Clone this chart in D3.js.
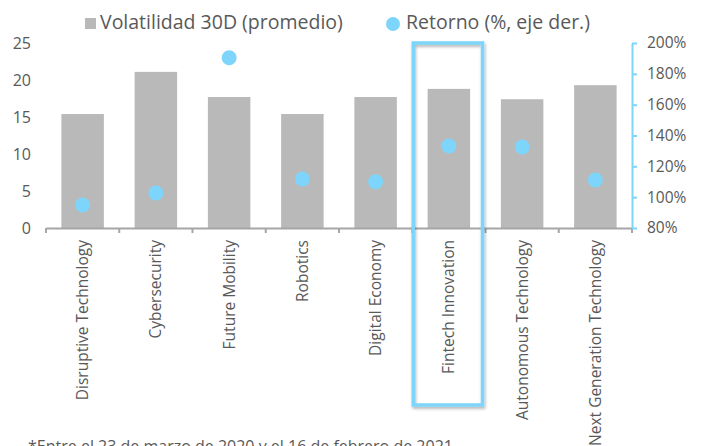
<!DOCTYPE html>
<html>
<head>
<meta charset="utf-8">
<style>
  body { margin: 0; background: #fff; }
  text { font-family: "Open Sans", sans-serif; fill: #595959; }
</style>
</head>
<body>
<svg width="701" height="446"></svg>
<script src="https://d3js.org/d3.v7.min.js"></script>
<script>

var categories = ["Disruptive Technology", "Cybersecurity", "Future Mobility", "Robotics",
                  "Digital Economy", "Fintech Innovation", "Autonomous Technology", "Next Generation Technology"];
var volatility = [15.4, 21.1, 17.7, 15.4, 17.7, 18.8, 17.4, 19.3];
var returns = [94.9, 102.7, 190.4, 111.8, 110.0, 133.2, 132.5, 111.1];
var leftTicks = [0, 5, 10, 15, 20, 25];
var rightTicks = [80, 100, 120, 140, 160, 180, 200];
var highlighted = "Fintech Innovation";
var footnote = "*Entre el 23 de marzo de 2020 y el 16 de febrero de 2021";

var svg = d3.select("svg"),
    blue = "#7dd5fc",
    grey = "#b9b9b9",
    axisGrey = "#a6a6a6";

var margin = {left: 46, right: 632, top: 43, bottom: 228};

var x = d3.scaleBand().domain(categories).range([margin.left, margin.right]).padding(0);
var yL = d3.scaleLinear().domain([0, 25]).range([margin.bottom, margin.top]);
var yR = d3.scaleLinear().domain([80, 200]).range([margin.bottom, margin.top]);

var defs = svg.append("defs");
defs.append("filter").attr("id", "shadow")
    .attr("x", "-10%").attr("y", "-10%").attr("width", "130%").attr("height", "130%")
  .append("feDropShadow")
    .attr("dx", 1).attr("dy", 2).attr("stdDeviation", 1.5)
    .attr("flood-color", "#000").attr("flood-opacity", 0.3);

// bars
var barW = x.bandwidth() * 0.58;
svg.append("g")
  .selectAll("rect")
  .data(categories)
  .enter().append("rect")
    .attr("x", function(d) { return x(d) + (x.bandwidth() - barW) / 2; })
    .attr("y", function(d, i) { return yL(volatility[i]); })
    .attr("width", barW)
    .attr("height", function(d, i) { return yL(0) - yL(volatility[i]); })
    .attr("fill", grey);

// left axis (labels only)
var gl = svg.append("g")
    .attr("transform", "translate(" + margin.left + ",0)")
    .call(d3.axisLeft(yL).tickValues(leftTicks).tickSize(0).tickPadding(15));
gl.select(".domain").remove();
gl.selectAll("text").style("font-size", "16px").attr("fill", "#595959");

// x axis
var gx = svg.append("g")
    .attr("transform", "translate(0," + margin.bottom + ")")
    .call(d3.axisBottom(x).tickSize(0).tickSizeOuter(0));
gx.select(".domain").attr("stroke", axisGrey).attr("stroke-width", 2);
gx.selectAll("text")
    .attr("transform", "rotate(-90)")
    .attr("text-anchor", "end")
    .attr("x", -12)
    .attr("y", 0)
    .attr("dy", "0.35em")
    .attr("fill", "#595959")
    .style("font-size", "15.5px");
gx.selectAll(".bound")
  .data(categories.concat([null]))
  .enter().append("line")
    .attr("class", "bound")
    .attr("x1", function(d) { return d === null ? margin.right : x(d); })
    .attr("x2", function(d) { return d === null ? margin.right : x(d); })
    .attr("y1", 0).attr("y2", 5)
    .attr("stroke", axisGrey).attr("stroke-width", 2);

// right axis
var gr = svg.append("g")
    .attr("transform", "translate(" + margin.right + ",0)")
    .call(d3.axisRight(yR).tickValues(rightTicks).tickSize(5).tickSizeOuter(0).tickPadding(10)
          .tickFormat(function(d) { return d + "%"; }));
gr.select(".domain").attr("stroke", blue).attr("stroke-width", 2);
gr.selectAll("line").attr("stroke", blue).attr("stroke-width", 2);
gr.selectAll("text").style("font-size", "15.5px").attr("fill", "#595959");

// dots
svg.append("g")
  .selectAll("circle")
  .data(categories)
  .enter().append("circle")
    .attr("cx", function(d) { return x(d) + x.bandwidth() / 2; })
    .attr("cy", function(d, i) { return yR(returns[i]); })
    .attr("r", 7.5)
    .attr("fill", blue);

// highlight box
svg.append("rect")
    .attr("x", x(highlighted) + 1)
    .attr("y", margin.top)
    .attr("width", x.bandwidth() - 4)
    .attr("height", 405 - margin.top)
    .attr("fill", "none")
    .attr("stroke", blue)
    .attr("stroke-width", 3.5)
    .attr("filter", "url(#shadow)");

// legend
var lg = svg.append("g");
lg.append("rect").attr("x", 85).attr("y", 18).attr("width", 11).attr("height", 11).attr("fill", grey);
lg.append("text").attr("x", 100).attr("y", 29).style("font-size", "19.5px").text("Volatilidad 30D (promedio)");
lg.append("circle").attr("cx", 393).attr("cy", 24).attr("r", 7).attr("fill", blue);
lg.append("text").attr("x", 406).attr("y", 29).style("font-size", "19.5px").text("Retorno (%, eje der.)");

svg.append("text").attr("x", 28).attr("y", 452).style("font-size", "16px").text(footnote);

</script>
</body>
</html>
